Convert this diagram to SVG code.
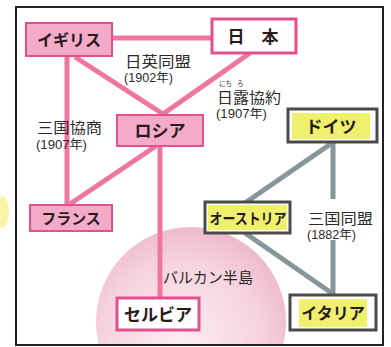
<svg xmlns="http://www.w3.org/2000/svg" width="391" height="347" viewBox="0 0 391 347">
<style>
.pl{stroke:#ee76a0;stroke-width:5;fill:none;stroke-linecap:butt}
.gl{stroke:#86969b;stroke-width:5;fill:none}
.pn{fill:#f3abc8;stroke:#e3508a;stroke-width:2}
.wn{fill:#ffffff;stroke:#e3508a;stroke-width:3}
.gn{fill:#ffffff;stroke:#4a4a4a;stroke-width:3}
.hl{fill:#eef06e}
.nt{font-family:"Noto Sans CJK JP",sans-serif;font-weight:bold;fill:#2a1a20;text-anchor:middle}
.lb{font-family:"Liberation Sans","Noto Sans CJK JP",sans-serif;fill:#2b2b2b;font-size:15px}
.yr{font-family:"Liberation Sans","Noto Sans CJK JP",sans-serif;fill:#2b2b2b;font-size:12px}
.rb{font-family:"Liberation Sans","Noto Sans CJK JP",sans-serif;fill:#2b2b2b;font-size:6.5px}
</style>
<defs>
<radialGradient id="bal" cx="0.45" cy="0.6" r="0.6">
<stop offset="0" stop-color="#fcedf2"/>
<stop offset="0.7" stop-color="#f5d3de"/>
<stop offset="1" stop-color="#eebbcc"/>
</radialGradient>
<clipPath id="fr"><rect x="17" y="8" width="365" height="336"/></clipPath>
</defs>
<rect width="391" height="347" fill="#ffffff"/>
<ellipse cx="2" cy="212" rx="7" ry="16" fill="#f8f4a8"/>
<circle cx="191" cy="322" r="95" fill="url(#bal)" clip-path="url(#fr)"/>
<rect x="16" y="7" width="367" height="338" fill="none" stroke="#222" stroke-width="2"/>
<g id="connectors">
<line class="pl" x1="112" y1="38" x2="212" y2="38"/>
<polyline class="pl" points="75,57 163,114 250,53"/>
<line class="pl" x1="67" y1="56" x2="67" y2="205"/>
<line class="pl" x1="156" y1="146" x2="70" y2="204"/>
<line class="pl" x1="160" y1="146" x2="160" y2="298"/>
<line class="gl" x1="332" y1="143" x2="245" y2="203"/>
<line class="gl" x1="333" y1="142" x2="333" y2="199"/>
<line class="gl" x1="333" y1="240" x2="333" y2="296"/>
<line class="gl" x1="245" y1="233" x2="333" y2="294"/>
</g>
<g id="igirisu">
<rect class="pn" x="26" y="23" width="86" height="33"/>
<text class="nt" x="69" y="46" font-size="16">イギリス</text>
</g>
<g id="nihon">
<rect class="wn" x="212" y="19" width="84" height="34"/>
<text class="nt" x="253" y="43" font-size="17">日　本</text>
</g>
<g id="roshia">
<rect class="pn" x="117" y="115" width="86" height="31"/>
<text class="nt" x="160" y="137" font-size="17">ロシア</text>
</g>
<g id="furansu">
<rect class="pn" x="30" y="205" width="82" height="26"/>
<text class="nt" x="71" y="224" font-size="15">フランス</text>
</g>
<g id="doitsu">
<rect class="gn" x="288" y="109" width="89" height="33"/>
<rect class="hl" x="292" y="113" width="78" height="26"/>
<text class="nt" x="331" y="133" font-size="17">ドイツ</text>
</g>
<g id="osutoria">
<rect class="gn" x="205" y="202" width="85" height="31"/>
<rect class="hl" x="208" y="205" width="79" height="25"/>
<text class="nt" x="248" y="224" font-size="15" textLength="77" lengthAdjust="spacingAndGlyphs">オーストリア</text>
</g>
<g id="serubia">
<rect class="wn" x="117" y="298" width="82" height="32"/>
<text class="nt" x="158" y="321" font-size="17">セルビア</text>
</g>
<g id="itaria">
<rect class="gn" x="290" y="295" width="86" height="35"/>
<rect class="hl" x="299" y="299" width="68" height="28"/>
<text class="nt" x="333" y="319" font-size="16">イタリア</text>
</g>
<g id="labels">
<text class="lb" x="125" y="67" textLength="66" lengthAdjust="spacingAndGlyphs">日英同盟</text>
<text class="yr" x="124" y="82" textLength="49" lengthAdjust="spacingAndGlyphs">(1902年)</text>
<text class="rb" x="219" y="86">にち</text>
<text class="rb" x="237" y="86">ろ</text>
<text class="lb" x="217" y="103" textLength="64" lengthAdjust="spacingAndGlyphs">日露協約</text>
<text class="yr" x="216" y="118" textLength="51" lengthAdjust="spacingAndGlyphs">(1907年)</text>
<text class="lb" x="37" y="133" textLength="65" lengthAdjust="spacingAndGlyphs">三国協商</text>
<text class="yr" x="36" y="149" textLength="51" lengthAdjust="spacingAndGlyphs">(1907年)</text>
<text class="lb" x="308" y="224" textLength="65" lengthAdjust="spacingAndGlyphs">三国同盟</text>
<text class="yr" x="307" y="239" textLength="49" lengthAdjust="spacingAndGlyphs">(1882年)</text>
<text class="lb" x="163" y="283" font-size="14" textLength="90" lengthAdjust="spacingAndGlyphs">バルカン半島</text>
</g>
</svg>
